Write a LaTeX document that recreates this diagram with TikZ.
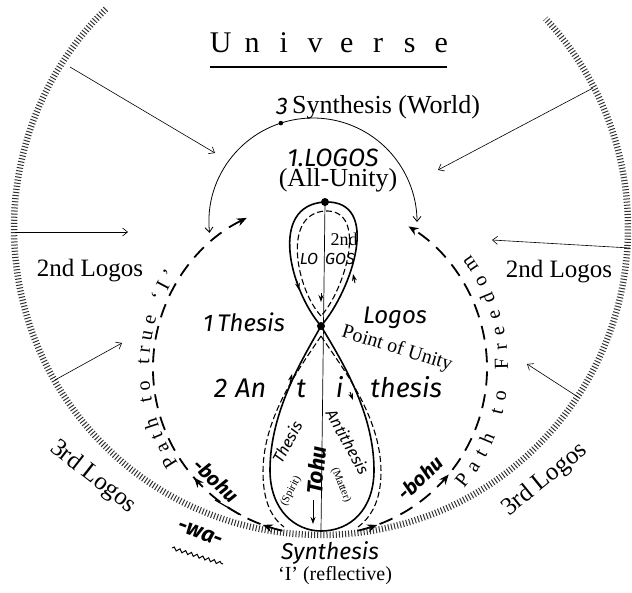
\documentclass[tikz,border=0pt]{standalone}
\usepackage{fontspec}
\setmainfont{Liberation Serif}
\newfontfamily\handf{Fira Sans}
\usetikzlibrary{arrows.meta,decorations.markings,decorations.text,decorations.pathmorphing}
\newcommand\fs[1]{\fontsize{#1}{#1}\selectfont}
\begin{document}
\begin{tikzpicture}[x=1pt,y=-1pt]
\tikzset{
  txt/.style={inner sep=0pt},
  hand/.style={font=\handf\itshape\fs{#1}},
  handb/.style={font=\handf\itshape\bfseries\fs{#1}},
  ser/.style={font=\fs{#1}},
  hatch/.style={line width=6.5pt, dash pattern=on 1pt off 2.1pt, draw=black!80},
  thinarr/.style={line width=0.6pt, -{Straight Barb[length=5pt,width=8pt]}},
  solidloop/.style={line width=1.6pt},
  dashloop/.style={line width=1.1pt, dash pattern=on 6pt off 3pt},
  bigdash/.style={line width=1.8pt, dash pattern=on 14pt off 9pt},
  tipa/.style={line width=1pt, -{Stealth[length=7pt,width=5pt]}},
  bigtip/.style={-{Stealth[length=10pt,width=8pt]}}
}
\useasboundingbox (0,0) rectangle (632,592);
% outer hatched circle
\coordinate (OC) at (321,228);
\draw[hatch] (OC) ++(225.5:307) arc[start angle=225.5, end angle=-43, radius=307];
% title
\node[txt, ser=30] (univ) at (331,43) {\makebox[31.5pt]{U}\makebox[31.5pt]{n}\makebox[31.5pt]{i}\makebox[31.5pt]{v}\makebox[31.5pt]{e}\makebox[31.5pt]{r}\makebox[31.5pt]{s}\makebox[31.5pt]{e}};
\draw[line width=1.8pt] (210,67) -- (447,67);
% inward arrows
\coordinate (a1s) at (70,67);   \coordinate (a1e) at (215,153);
\coordinate (a2s) at (15,232);  \coordinate (a2e) at (128,232);
\coordinate (a3s) at (55,380);  \coordinate (a3e) at (122,343);
\coordinate (a4s) at (593,88);  \coordinate (a4e) at (438,170);
\coordinate (a5s) at (630,248); \coordinate (a5e) at (492,240);
\coordinate (a6s) at (578,397); \coordinate (a6e) at (527,364);
\foreach \i in {1,...,6} \draw[thinarr] (a\i s) -- (a\i e);
% top arc (3 synthesis)
\coordinate (AC) at (313,222);
\draw[line width=0.8pt, {Straight Barb[length=5pt,width=8pt]}-{Straight Barb[length=5pt,width=8pt]}] (AC) ++(174:104) arc[start angle=174, end angle=360, radius=104];
\fill (AC) ++(252:104) circle[radius=2.3];
% figure eight
\coordinate (T) at (325,202); \coordinate (C) at (321,326); \coordinate (B) at (321,531);
\draw[solidloop] (C) .. controls (290,290) and (268,205) .. (T) .. controls (382,200) and (352,290) .. (C) .. controls (305,355) and (270,410) .. (270,470) .. controls (270,510) and (295,531) .. (B) .. controls (350,531) and (374,510) .. (374,470) .. controls (374,410) and (338,355) .. (C);
\draw[line width=0.7pt] (T) -- (B);
\fill (T) circle[radius=4]; \fill (C) circle[radius=4];
\draw[dashloop] (321,316) .. controls (297,290) and (281,214) .. (325,211) .. controls (369,209) and (345,290) .. (321,316);
\draw[dashloop] (321,336) .. controls (302,365) and (263,415) .. (263,472) .. controls (263,502) and (272,518) .. (284,527);
\draw[dashloop] (321,336) .. controls (340,365) and (381,415) .. (381,472) .. controls (381,502) and (370,518) .. (358,527);
% small arrows on the eight
\draw[tipa] (297,281) -- (299,290);
\draw[tipa] (321,293) -- (321,302);
\draw[tipa] (355,283) -- (353,274);
\draw[tipa] (290,383) -- (292,374);
\draw[tipa] (350,392) -- (353,400);
\draw[tipa] (313,500) -- (313,524);
% big dashed paths
\coordinate (PC) at (320,368);
\draw[bigdash, bigtip, postaction={decorate}, decoration={markings,
  mark=at position 0.05 with {\arrow{Stealth[length=10pt,width=8pt]}},
  mark=at position 0.255 with {\arrow{Stealth[length=10pt,width=8pt]}}}]
  (PC) ++(103:167) arc[start angle=103, end angle=244, radius=167];
\draw[bigdash, bigtip, postaction={decorate}, decoration={markings,
  mark=at position 0.052 with {\arrow{Stealth[length=10pt,width=8pt]}},
  mark=at position 0.277 with {\arrow{Stealth[length=10pt,width=8pt]}}}]
  (PC) ++(77:167) arc[start angle=77, end angle=-58, radius=167];
\path[decorate, decoration={text along path, text={|\fs{20}|Path to true ‘I’}, text align={fit to path}}]
  (PC) ++(146:171) arc[start angle=146, end angle=213, radius=171];
\path[decorate, decoration={text along path, text={|\fs{20}|Path to Freedom}, text align={fit to path}}]
  (PC) ++(40:188) arc[start angle=40, end angle=-37, radius=188];
% texts
\node[txt, hand=25] (logos1) at (333,158) {1.LOGOS};
\node[txt, ser=26] (allu) at (338,180) {(All-Unity)};
\node[txt, hand=24] (three) at (282,106) {3};
\node[txt, ser=26, anchor=west] (synw) at (292,107) {Synthesis (World)};
\node[txt, ser=25] (l2l) at (90,271) {2nd Logos};
\node[txt, ser=25] (l2r) at (559,272) {2nd Logos};
\node[txt, ser=25, rotate=-38] (l3l) at (93,477) {3rd Logos};
\node[txt, ser=25, rotate=39] (l3r) at (545,480) {3rd Logos};
\node[txt, hand=24] (th1) at (244,322) {1\,Thesis};
\node[txt, hand=24] (lg) at (395,318) {Logos};
\node[txt, ser=20, rotate=-17] (pu) at (397,349) {Point of Unity};
\node[txt, hand=27, anchor=west] (anti) at (214,387) {2\hspace{8pt}An\hspace{30pt}t\hspace{30pt}i\hspace{27pt}thesis};
\node[txt, ser=18] (snd) at (344,239) {2nd};
\node[txt, hand=16] (lo) at (309,259) {LO};
\node[txt, hand=16] (gos) at (340,259) {GOS};
\node[txt, hand=16, rotate=62] (thL) at (287,442) {Thesis};
\node[txt, ser=11, rotate=62] (spi) at (291,491) {(Spirit)};
\node[txt, handb=22, rotate=85] (tohu) at (316,470) {Tohu};
\node[txt, hand=16, rotate=-61] (antL) at (348,442) {Antithesis};
\node[txt, ser=11, rotate=-68] (mat) at (341,485) {(Matter)};
\node[txt, handb=20, rotate=-43] (bohl) at (216,480) {-bohu};
\node[txt, handb=20, rotate=43] (bohr) at (420,478) {-bohu};
\node[txt, handb=22, rotate=-20] (wa) at (200,533) {-wa-};
\draw[line width=1pt, decorate, decoration={snake, amplitude=1.6pt, segment length=6pt}] (172,548) -- (223,564);
\draw[line width=1.2pt] (215,500) -- (241,515);
\node[txt, hand=23] (syn) at (330,553) {Synthesis};
\node[txt, ser=20] (refl) at (335,576) {‘I’ (reflective)};
\end{tikzpicture}
\end{document}
